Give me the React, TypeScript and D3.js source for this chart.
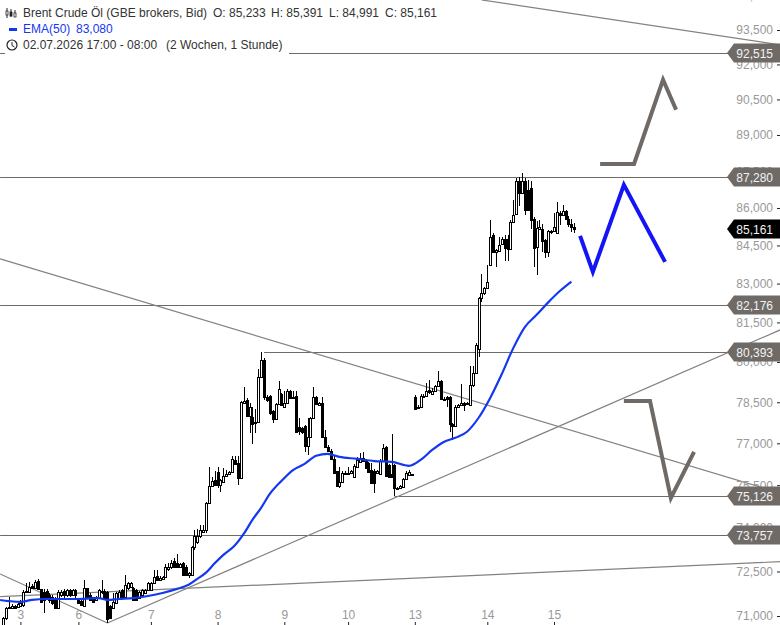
import { useEffect, useRef } from "react";
import * as d3 from "d3";

// open, high, low, close per hour, one list per session
const sessionA = [
  [70700,70960,70670,70920],[70920,71310,70870,71260],[71260,71650,71230,71310],[71260,71390,71230,71330],
  [71340,71380,71250,71280],[71310,71430,71280,71390],[71340,71540,71310,71420],[71370,71870,71310,71810],
  [71790,72120,71770,71850],[71810,72150,71780,71980],[72000,72090,71900,71930],[71930,72220,71890,72150],
  [72180,72240,71870,71900],[71890,71920,71430,71480],[71810,71890,71110,71540],[71850,71920,71540,71590],
  [71700,71760,71430,71540],[71630,71700,71370,71430],[71540,71650,71230,71260],[71260,71870,71230,71810],
  [71700,71870,71650,71810],[71850,71890,71540,71700],[71700,71890,71650,71870],[71870,71920,71650,71700],
  [71700,71890,71670,71870],[71870,71920,71600,71700],
];
const sessionB = [
  [71540,71600,71410,71430],[71510,71570,71340,71370],[71340,72210,71310,71950],[71930,71950,71560,71590],
  [71700,71760,71510,71540],[71630,71650,71450,71480],[71520,71660,71490,71630],[71590,71890,71560,71870],
  [71790,72210,71740,71850],[71850,71890,71570,71590],[71810,71850,70760,70890],[71340,71370,70890,70920],
  [71260,71760,71230,71480],[71430,71810,71410,71760],[71590,71870,71560,71810],[71870,71920,71560,71590],
  [71630,72390,71590,72040],[71930,72150,71870,72100],[71980,72140,71950,72100],[71930,71980,71510,71540],
  [71870,71910,71500,71540],[71590,71850,71560,71810],[71700,71910,71670,71870],[71760,71900,71740,71870],
  [71870,72150,71850,72100],
];
const sessionC = [
  [71870,72160,71850,72120],[72100,72550,72070,72310],[72330,72550,72180,72210],[72210,72350,72190,72270],
  [72230,72350,72210,72310],[72310,72760,72270,72670],[72580,72780,72530,72670],[72670,72890,72580,72780],
  [72870,72950,72620,72670],[72780,73100,72620,72670],[72670,72800,72640,72760],[72780,72840,72330,72380],
  [72670,72710,72350,72380],[72380,72480,72270,72440],[72380,73390,72350,73350],[73350,73930,73240,73720],
  [73520,73950,73440,73720],[73720,74100,73640,73930],[73870,74100,73820,73930],[73930,74900,73820,74860],
  [74860,76140,74830,75470],[75470,75800,75430,75660],[75690,76000,75470,75510],
];
const sessionD = [
  [75980,76160,75390,75510],[75510,75730,75270,75690],[75630,76100,75600,75830],[75830,76050,75800,75900],
  [75900,76010,75870,75980],[75980,76550,75950,76430],[76400,76550,76220,76260],[76280,76550,75510,75770],
  [75750,78540,75720,78500],[78470,79080,78430,78560],[78590,78660,77940,77980],[77980,78470,77370,78340],
  [77950,78340,76980,77700],[77730,78260,77370,77790],[77790,79730,77750,79430],[79430,80390,79400,80080],
  [80080,80150,78590,78710],[78710,78750,78500,78590],[78730,78770,78040,78120],[78170,78210,77730,77890],
  [77890,78470,77850,78430],[78430,79270,78400,78980],[78800,78840,78360,78400],
];
const sessionE = [
  [78340,78900,78310,78470],[78470,78980,78430,78900],[78900,78960,78620,78650],[78650,78900,78620,78710],
  [78730,78900,77380,77420],[77610,77910,77300,77460],[77560,77600,77350,77420],[77640,77680,76700,76900],
  [76900,77910,76580,77240],[77240,77950,77200,77910],[77910,79080,77880,78690],[78690,78720,78400,78440],
  [78410,78520,78380,78470],[78490,78680,77180,77220],[77220,77490,76840,76880],[76880,76930,76680,76720],
  [76730,76780,76390,76420],[76420,76580,75910,75950],[75990,76020,75430,75470],[75480,76160,75400,75630],
  [75630,75990,75580,75950],[75950,76000,75870,75900],
];
const sessionF = [
  [75890,76160,75850,75950],[75950,76030,75920,75990],[75800,76240,75750,76180],[76160,76500,76130,76400],
  [76340,76650,76300,76460],[76480,76680,76340,76380],[76400,76440,76060,76100],[76280,76310,75950,75980],
  [76040,76280,75550,75590],[76010,76060,75210,75570],[75920,76040,75880,76010],[75900,76440,75860,76380],
  [76380,76980,76340,76840],[76860,76900,75790,75830],[76220,76260,75770,75800],[75880,77320,75770,75800],
  [76220,76260,75120,75390],[75370,75440,75340,75390],[75390,75500,75350,75460],[75430,75750,75400,75710],
  [75710,75990,75670,75920],[75860,76030,75830,75960],[75880,75900,75820,75850],
];
const sessionG = [
  [78710,78770,78220,78250],[78270,78380,78240,78340],[78320,78800,78290,78740],[78700,78790,78680,78740],
  [78730,79200,78700,78930],[78960,79330,78820,78860],[78790,79030,78750,78910],[78900,79150,78860,79110],
  [79110,79660,79080,79270],[79300,79340,78590,78620],[78630,78700,78590,78610],[78690,78730,78340,78610],
  [78690,78720,77420,77700],[77700,77740,77120,77620],[77620,78380,77580,78340],[78320,78440,78290,78400],
  [78400,79160,78360,78490],[78490,78520,78160,78380],[78470,78500,78400,78440],[78400,79850,78360,79120],
  [79120,79850,79080,79580],[79580,80700,79550,80640],[80480,82490,80200,82440],[82430,83370,82300,82620],
  [82620,82860,82550,82820],
];
const sessionH = [
  [82820,83740,82790,83060],[83740,85520,83670,84850],[84920,85000,84200,84240],[84260,84370,83640,84330],
  [84290,84850,84250,84530],[84550,84850,84510,84760],[84760,84900,83870,84400],[84760,84900,83870,84360],
  [84360,85510,84320,85430],[85430,86330,85390,85730],[85750,87240,85710,87080],[87080,87280,86100,86600],
  [86600,87430,86570,87080],[87110,87220,85730,85930],[86740,87150,85890,85930],[86810,87080,85150,85520],
  [85550,85650,83640,84400],[84420,85460,83340,85190],[85160,85530,85120,85250],[85160,85350,84260,84660],
  [84700,84740,84020,84240],[84240,85120,84060,85080],[85030,85130,84960,85090],
];
const sessionI = [
  [85090,85800,85060,85230],[85000,86240,84950,85840],[85800,85870,85320,85730],[85730,86130,85700,85870],
  [85870,85910,85510,85550],[85560,85660,85250,85350],[85350,85560,85050,85230],[85233,85391,84991,85161],
];
const candles = [
  ...sessionA, ...sessionB, ...sessionC, ...sessionD, ...sessionE,
  ...sessionF, ...sessionG, ...sessionH, ...sessionI,
];

const emaBars = [-1,2,6,10,15,20,25,33,36,40,45,50,55,60,64,67,70,73,76,80,83,86,89,92,96,100,104,108,112,116,122,128,134,140,144,148,152,156,160,164,168,172,176,180,184,188,192,196];
const emaValues = [71536,71500,71470,71540,71570,71570,71570,71600,71540,71570,71600,71670,71770,71910,72050,72250,72460,72780,73070,73400,73790,74280,74700,75190,75650,76040,76260,76550,76620,76510,76440,76360,76330,76190,76400,76760,77050,77200,77420,77930,78660,79550,80530,81330,81790,82270,82710,83080];

const yTicks = [95000,93500,92000,90500,89000,87500,86000,84500,83000,81500,80000,78500,77000,75500,74000,72500,71000];
const dayLabels = ["3","6","7","8","9","10","13","14","15"];
const dayBars = [6,26,51,74,97,119,142,167,190];

const levelValues = [92515,87280,82176,80393,75126,73757];
const levelStarts = [-1,-1,-1,90,135,-1];

const lastBar = 268;
const trendFrom = [[165,94830],[-1,83967],[36,70767],[-1,72415],[-1,71647]];
const trendTo = [[lastBar,92850],[lastBar,75224],[lastBar,81213],[36,70767],[lastBar,72835]];

const blueScenario = [[199,84881],[203.4,83457],[214.1,86940],[228.3,83850]];
const grayUpScenario = [[205.9,87800],[217.6,87800],[227.6,91337],[232.1,90060]];
const grayDownScenario = [[214.1,78548],[223.1,78548],[230.3,75049],[238.3,76689]];

const lastPrice = 85161;

export default function App() {
  const svgRef = useRef<SVGSVGElement>(null);

  useEffect(() => {
    if (!svgRef.current) return;
    const svg = d3.select(svgRef.current);
    svg.selectAll("*").remove();

    const width = 780;
    const height = 625;
    const grayLine = "#6f6a66";
    const font = "'Liberation Sans', Arial, sans-serif";

    const x = d3.scaleLinear().domain([0, 197]).range([3, 574.3]);
    const y = d3.scaleLog().domain([71000, 93500]).range([616, 30]);

    const pathLine = d3
      .line<number[]>()
      .x((d) => x(d[0]))
      .y((d) => y(d[1]));

    // horizontal levels
    svg
      .append("g")
      .selectAll("line")
      .data(levelValues)
      .enter()
      .append("line")
      .attr("x1", (_, i) => x(levelStarts[i]))
      .attr("x2", width)
      .attr("y1", (d) => Math.round(y(d)) + 0.5)
      .attr("y2", (d) => Math.round(y(d)) + 0.5)
      .attr("stroke", grayLine)
      .attr("stroke-width", 1);

    // trend lines
    svg
      .append("g")
      .selectAll("line")
      .data(trendFrom)
      .enter()
      .append("line")
      .attr("x1", (d) => x(d[0]))
      .attr("y1", (d) => y(d[1]))
      .attr("x2", (_, i) => x(trendTo[i][0]))
      .attr("y2", (_, i) => y(trendTo[i][1]))
      .attr("stroke", "#85817e")
      .attr("stroke-width", 1.2);

    // candles
    const candleG = svg.append("g").attr("shape-rendering", "crispEdges");
    candles.forEach((c, i) => {
      const [o, h, l, cl] = c;
      const cx = Math.round(x(i));
      candleG
        .append("line")
        .attr("x1", cx + 0.5)
        .attr("x2", cx + 0.5)
        .attr("y1", y(h))
        .attr("y2", y(l))
        .attr("stroke", "#000");
      const top = Math.round(y(Math.max(o, cl)));
      const bottom = Math.round(y(Math.min(o, cl)));
      candleG
        .append("rect")
        .attr("x", cx - 0.5)
        .attr("y", top + 0.5)
        .attr("width", 2)
        .attr("height", Math.max(bottom - top, 1))
        .attr("fill", cl >= o ? "#fff" : "#000")
        .attr("stroke", "#000");
    });

    // EMA
    svg
      .append("path")
      .attr("d", pathLine.curve(d3.curveMonotoneX)(emaBars.map((b, i) => [b, emaValues[i]])))
      .attr("fill", "none")
      .attr("stroke", "#1438f0")
      .attr("stroke-width", 2.2);
    pathLine.curve(d3.curveLinear);

    // drawn scenarios
    const scenarios = [
      { points: grayUpScenario, color: grayLine },
      { points: grayDownScenario, color: grayLine },
      { points: blueScenario, color: "#1414f5" },
    ];
    scenarios.forEach((s) => {
      svg
        .append("path")
        .attr("d", pathLine(s.points))
        .attr("fill", "none")
        .attr("stroke", s.color)
        .attr("stroke-width", 4);
    });

    // price axis
    const yAxis = svg
      .append("g")
      .attr("transform", `translate(${width},0)`)
      .call(d3.axisLeft(y).tickValues(yTicks).tickSize(3).tickPadding(4).tickFormat(d3.format(",") as any));
    yAxis.select(".domain").remove();
    yAxis.selectAll("text").attr("fill", "#999").style("font", `12px ${font}`);
    yAxis.selectAll("line").attr("stroke", "#222");

    // day axis
    const xAxis = svg
      .append("g")
      .attr("transform", `translate(0,${height})`)
      .call(
        d3
          .axisTop(x)
          .tickValues(dayBars)
          .tickSize(3)
          .tickPadding(3)
          .tickFormat((_, i) => dayLabels[i])
      );
    xAxis.select(".domain").remove();
    xAxis.selectAll("text").attr("fill", "#999").style("font", `12px ${font}`);
    xAxis.selectAll("line").attr("stroke", "#222");

    // price tags
    const tag = (value: number, fill: string) => {
      const cy = Math.round(y(value));
      const g = svg.append("g").attr("transform", `translate(0,${cy})`);
      g.append("path")
        .attr("d", "M727,0L734,-9.5L780,-9.5L780,9.5L734,9.5Z")
        .attr("fill", fill);
      g.append("text")
        .attr("x", 773)
        .attr("y", 4.5)
        .attr("text-anchor", "end")
        .attr("fill", "#f2f2f2")
        .style("font", `12px ${font}`)
        .text(d3.format(",")(value));
    };
    levelValues.forEach((v) => tag(v, grayLine));
    tag(lastPrice, "#000");

    // legend
    const legend = svg.append("g");
    legend.append("rect").attr("x", 5).attr("y", 0).attr("width", 284).attr("height", 54).attr("fill", "#fff");
    const dark = "#333";
    const legendRows: [string, number, number, string][] = [
      ["Brent Crude Öl (GBE brokers, Bid)", 23, 17, dark],
      ["O: 85,233", 213, 17, dark],
      ["H: 85,391", 271, 17, dark],
      ["L: 84,991", 329, 17, dark],
      ["C: 85,161", 385, 17, dark],
      ["EMA(50)", 23, 33, "#1438f0"],
      ["83,080", 76, 33, "#1438f0"],
      ["02.07.2026 17:00 - 08:00", 23, 49, dark],
      ["(2 Wochen, 1 Stunde)", 166, 49, dark],
    ];
    legendRows.forEach(([t, tx, ty, color]) => {
      legend
        .append("text")
        .attr("x", tx)
        .attr("y", ty)
        .attr("fill", color)
        .style("font", `12px ${font}`)
        .text(t);
    });

    // legend icons
    legend.append("rect").attr("x", 9).attr("y", 28).attr("width", 8).attr("height", 3).attr("fill", "#1438f0");
    legend.append("circle").attr("cx", 12).attr("cy", 45).attr("r", 5).attr("fill", "none").attr("stroke", "#222").attr("stroke-width", 1.2);
    legend.append("path").attr("d", "M12,42V45.5L14.5,47").attr("fill", "none").attr("stroke", "#222");
    [7, 11, 15].forEach((ix, i) => {
      legend.append("line").attr("x1", ix).attr("x2", ix).attr("y1", 8 + i).attr("y2", 18 - i).attr("stroke", "#222");
      legend.append("rect").attr("x", ix - 1).attr("y", 11 + i).attr("width", 2).attr("height", 4).attr("fill", i === 1 ? "#222" : "#fff").attr("stroke", "#222").attr("stroke-width", 0.8);
    });
  }, []);

  return (
    <>
      <style>{"body{margin:0;background:#fff}"}</style>
      <svg ref={svgRef} width={780} height={625} style={{ display: "block" }} />
    </>
  );
}
